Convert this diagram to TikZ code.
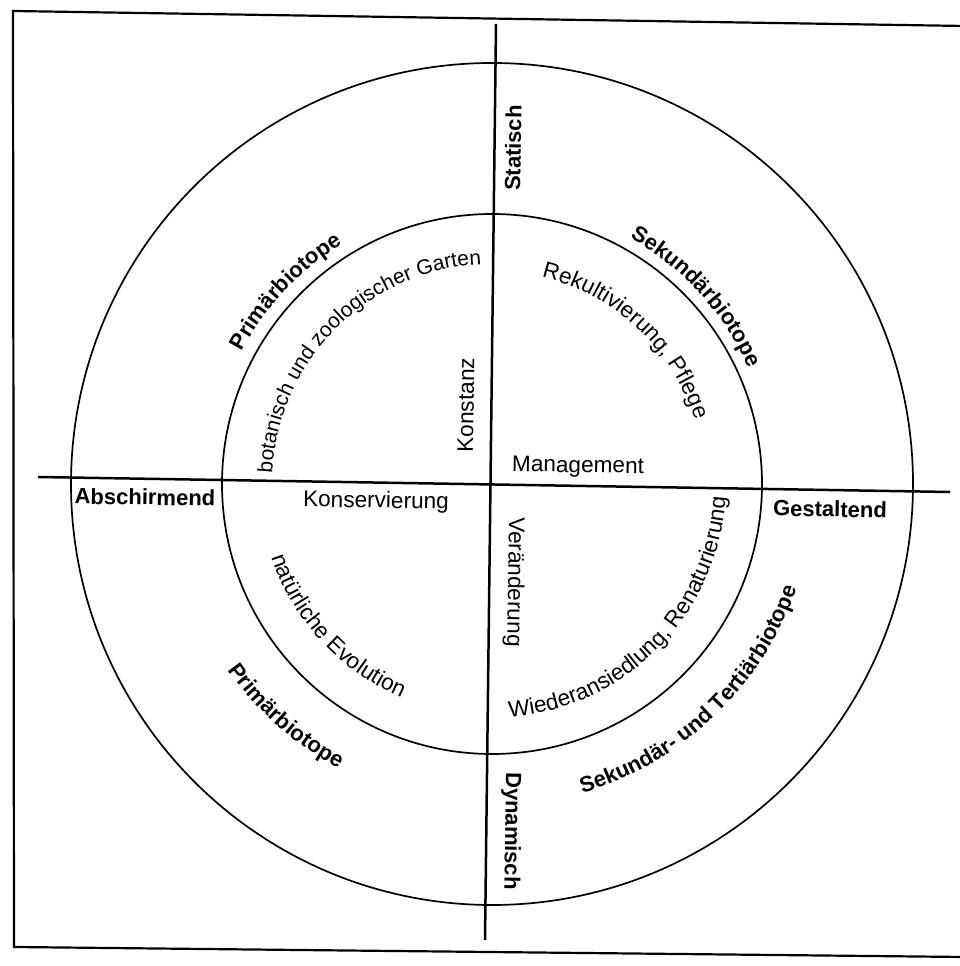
\documentclass[tikz,border=0pt]{standalone}
\usepackage{fontspec}
\setmainfont{Liberation Sans}
\usetikzlibrary{decorations.text}
\newcommand\rfont{\fontsize{22.6}{26}\selectfont}
\newcommand\bfont{\fontsize{22}{26}\selectfont\bfseries}
\begin{document}
\begin{tikzpicture}[x=1pt,y=1pt,
  lab/.style={inner sep=0pt, font=\rfont},
  blab/.style={inner sep=0pt, font=\bfont},
  ring/.style={line width=1.7pt},
  axisline/.style={line width=2.5pt},
  framebox/.style={line width=2.2pt},
  ctext/.style={decorate, decoration={text along path, text align=center, text={#1}}}
  ]
\useasboundingbox (0,0) rectangle (960,966);
\coordinate (C) at (492,482);
% frame
\coordinate (ftr) at (964,940);
\coordinate (ftl) at (13,955);
\coordinate (fbl) at (14,19);
\coordinate (fbr) at (964,9);
\draw[framebox] (ftr) -- (ftl) -- (fbl) -- (fbr);
% rings
\draw[ring] (C) circle[radius=421];
\draw[ring] (C) circle[radius=270];
% axes
\coordinate (hl) at (38,489);
\coordinate (hr) at (950,474);
\coordinate (vt) at (496,942);
\coordinate (vb) at (485,26);
\draw[axisline] (hl) -- (hr);
\draw[axisline] (vt) -- (vb);
% straight labels
\node[blab, rotate=89.1] (statisch) at (513,818) {Statisch};
\node[lab, rotate=89.1] (konstanz) at (466,561) {Konstanz};
\node[lab, rotate=-0.9] (management) at (578,499) {Management};
\node[blab, rotate=-0.9] (abschirmend) at (145,469) {Abschirmend};
\node[lab, rotate=-0.9] (konservierung) at (376,464) {Konservierung};
\node[blab, rotate=-0.9] (gestaltend) at (830,457) {Gestaltend};
\node[lab, rotate=-90.9] (veraenderung) at (514,384) {Veränderung};
\node[blab, rotate=-90.9] (dynamisch) at (511,135) {Dynamisch};
% curved labels
\path[ctext={|\bfont|Primärbiotope}]
  (C) ++(172:283) arc[start angle=172, end angle=102, radius=283];
\path[ctext={|\fontsize{21}{25}\selectfont|botanisch und zoologischer Garten}]
  (C) ++(195:220) arc[start angle=195, end angle=75, radius=220];
\path[ctext={|\bfont|Sekundärbiotope}]
  (C) ++(77.5:282) arc[start angle=77.5, end angle=7.5, radius=282];
\path[ctext={|\rfont|Rekultivierung, Pflege}]
  (C) ++(92:213) arc[start angle=92, end angle=2, radius=213];
\path[ctext={|\rfont|natürliche Evolution}]
  (C) ++(182.7:232) arc[start angle=182.7, end angle=262.7, radius=232];
\path[ctext={|\bfont|Primärbiotope}]
  (C) ++(198.4:323) arc[start angle=198.4, end angle=258.4, radius=323];
\path[ctext={|\rfont|Wiederansiedlung, Renaturierung}]
  (C) ++(260.5:234) arc[start angle=260.5, end angle=370.5, radius=234];
\path[ctext={|\bfont|Sekundär- und Tertiärbiotope}]
  (C) ++(273.7:322) arc[start angle=273.7, end angle=353.7, radius=322];
\end{tikzpicture}
\end{document}
